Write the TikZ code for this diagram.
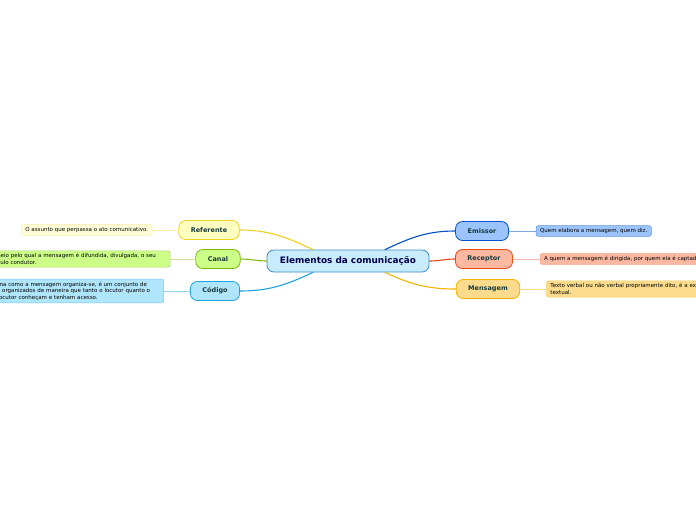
\documentclass[tikz,border=0pt]{standalone}
\usepackage{fontspec}
\setmainfont{DejaVu Sans}
\usetikzlibrary{positioning}
\definecolor{cenfill}{HTML}{C8ECFC}
\definecolor{cenline}{HTML}{3C8CC8}
\definecolor{refline}{HTML}{F0D020}
\definecolor{reffill}{HTML}{FFFFC0}
\definecolor{canline}{HTML}{80B810}
\definecolor{canfill}{HTML}{CCFF88}
\definecolor{codline}{HTML}{20A4E0}
\definecolor{codfill}{HTML}{B0E6FC}
\definecolor{emiline}{HTML}{0050C8}
\definecolor{emifill}{HTML}{9CC4FC}
\definecolor{recline}{HTML}{E84818}
\definecolor{recfill}{HTML}{FCB8A0}
\definecolor{menline}{HTML}{F4B400}
\definecolor{menfill}{HTML}{FCDC8C}
\definecolor{titletext}{HTML}{163A3C}
\begin{document}
\begin{tikzpicture}[x=1pt,y=1pt,line cap=round,line join=round,
  topic/.style 2 args={draw=#1,fill=#2,rounded corners=7pt,line width=0.8pt,text=titletext,
    font=\fontsize{6.5}{7}\selectfont\bfseries,minimum height=19pt,inner xsep=12pt},
  leaf/.style 2 args={draw=#1,fill=#2,rounded corners=2pt,line width=0.5pt,text=black,
    font=\fontsize{5.5}{6.5}\selectfont,align=left,inner xsep=4pt,inner ysep=2.6pt},
  link/.style={line width=1.1pt},
  twig/.style={line width=0.6pt}]
  \path[use as bounding box,clip] (0,0) rectangle (696,-520);
  \fill[white] (0,0) rectangle (696,-520);
  % central topic
  \node[topic={cenline}{cenfill},font=\fontsize{8.9}{10}\selectfont\bfseries,text=black!70!blue,
    minimum height=22pt,inner xsep=13pt] (cen) at (348,-261) {Elementos da comunicação};
  % main topics
  \node[topic={refline}{reffill}] (ref) at (209,-230) {Referente};
  \node[topic={canline}{canfill}] (can) at (218,-259) {Canal};
  \node[topic={codline}{codfill}] (cod) at (215,-291) {Código};
  \node[topic={emiline}{emifill}] (emi) at (482,-231) {Emissor};
  \node[topic={recline}{recfill}] (rec) at (484,-259) {Receptor};
  \node[topic={menline}{menfill}] (men) at (488,-289) {Mensagem};
  % leaves
  \node[leaf={refline!40}{reffill!60},left=26pt of ref] (refl) {O assunto que perpassa o ato comunicativo.};
  \node[leaf={canline!60}{canfill},left=25pt of can,text width=177pt] (canl)
    {O meio pelo qual a mensagem é difundida, divulgada, o seu\\ veículo condutor.};
  \node[leaf={codline!60}{codfill},left=26pt of cod,text width=175pt] (codl)
    {A forma como a mensagem organiza-se, é um conjunto de\\ sinais organizados de maneira que tanto o locutor quanto o\\ interlocutor conheçam e tenham acesso.};
  \node[leaf={emiline!60}{emifill},right=27pt of emi] (emil) {Quem elabora a mensagem, quem diz.};
  \node[leaf={recline!50}{recfill},right=27pt of rec] (recl) {A quem a mensagem é dirigida, por quem ela é captada.};
  \node[leaf={menline!60}{menfill},right=26pt of men,text width=186pt] (menl)
    {Texto verbal ou não verbal propriamente dito, é a expressão\\ textual.};
  % connectors
  \draw[link,refline] ([xshift=-35pt]cen.north) to[out=155,in=0] (ref.east);
  \draw[link,canline] (cen.west) to[out=180,in=0] (can.east);
  \draw[link,codline] ([xshift=-35pt]cen.south) to[out=205,in=0] (cod.east);
  \draw[link,emiline] ([xshift=37pt]cen.north) to[out=25,in=180] (emi.west);
  \draw[link,recline] (cen.east) to[out=0,in=180] (rec.west);
  \draw[link,menline] ([xshift=37pt]cen.south) to[out=-25,in=180] (men.west);
  \foreach \a/\b/\c in {ref/refl/refline!40,can/canl/canline!40,cod/codl/codline!50,
      emi/emil/emiline!50,rec/recl/recline!40,men/menl/menline!50}
    \draw[twig,\c] (\a) -- (\b);
\end{tikzpicture}
\end{document}
